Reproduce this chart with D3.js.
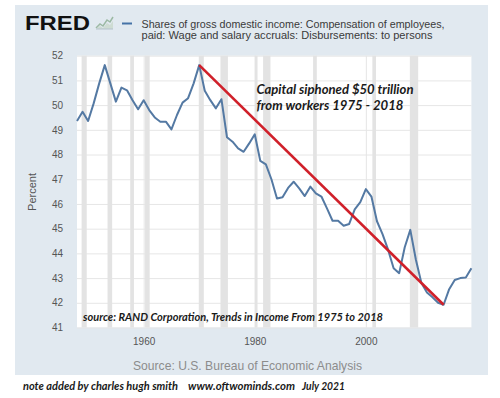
<!DOCTYPE html>
<html>
<head>
<meta charset="UTF-8">
<title>FRED - Wage and salary share of GDI</title>
<style>
  body { margin: 0; background: #fff; }
  svg { display: block; font-family: "Liberation Sans", Arial, sans-serif; }
  .grid line { stroke: #e6e6e6; stroke-width: 1; }
  .grid path { display: none; }
  .axis path, .axis line { display: none; }
  .axis text { fill: #555; font-size: 10px; }
  .note { font-family: Lato, "Open Sans", sans-serif; font-style: italic; font-weight: 700; fill: #1a1a1a; }
</style>
</head>
<body>
<svg width="500" height="398"></svg>
<script src="https://d3js.org/d3.v7.min.js"></script>
<script>

// annual values (percent of GDI)
var years = [1948, 1949, 1950, 1951, 1952, 1953, 1954, 1955, 1956, 1957,
             1958, 1959, 1960, 1961, 1962, 1963, 1964, 1965, 1966, 1967,
             1968, 1969, 1970, 1971, 1972, 1973, 1974, 1975, 1976, 1977,
             1978, 1979, 1980, 1981, 1982, 1983, 1984, 1985, 1986, 1987,
             1988, 1989, 1990, 1991, 1992, 1993, 1994, 1995, 1996, 1997,
             1998, 1999, 2000, 2001, 2002, 2003, 2004, 2005, 2006, 2007,
             2008, 2009, 2010, 2011, 2012, 2013, 2014, 2015, 2016, 2017,
             2018, 2019];
var share = [49.36, 49.73, 49.36, 50.07, 50.88, 51.62, 50.88, 50.14, 50.71, 50.60,
             50.20, 49.83, 50.20, 49.80, 49.50, 49.33, 49.33, 49.02, 49.60, 50.10,
             50.28, 50.88, 51.62, 50.58, 50.20, 49.87, 50.24, 48.70, 48.52, 48.25,
             48.11, 48.45, 48.82, 47.74, 47.60, 47.00, 46.22, 46.27, 46.65, 46.90,
             46.63, 46.32, 46.70, 46.43, 46.30, 45.82, 45.32, 45.32, 45.12, 45.19,
             45.78, 46.07, 46.60, 46.30, 45.30, 44.78, 44.15, 43.40, 43.20, 44.25,
             44.95, 43.75, 42.80, 42.42, 42.22, 42.00, 41.92, 42.55, 42.92, 43.00,
             43.02, 43.40];

// NBER recessions (decimal years) shown as grey bands
var recStart = [1948.83, 1953.5, 1957.58, 1960.25, 1969.92, 1973.83, 1980.0, 1981.5, 1990.5, 2001.17, 2007.92];
var recEnd   = [1949.75, 1954.33, 1958.25, 1961.08, 1970.83, 1975.17, 1980.5, 1982.83, 1991.17, 2001.83, 2009.42];

// red trend line added on top (peak -> trough)
var trendYears = [1970, 2014];
var trendVals  = [51.62, 41.92];

var yTicks = [41, 42, 43, 44, 45, 46, 47, 48, 49, 50, 51, 52];
var xTicks = [1960, 1980, 2000];

var svg = d3.select("svg"),
    margin = {top: 55.7, right: 28.6, bottom: 70.5, left: 77},
    width = 500 - margin.left - margin.right,
    height = 398 - margin.top - margin.bottom;

// FRED grey-blue panel
svg.append("rect")
    .attr("x", 15).attr("y", 5)
    .attr("width", 473).attr("height", 370)
    .attr("fill", "#e1e9f0");

var x = d3.scaleLinear().domain([1948, 2019]).range([0, width]),
    y = d3.scaleLinear().domain([41, 52]).range([height, 0]);

var g = svg.append("g")
    .attr("transform", "translate(" + margin.left + "," + margin.top + ")");

g.append("rect")
    .attr("width", width).attr("height", height)
    .attr("fill", "#fff");

// gridlines
g.append("g")
    .attr("class", "grid")
    .call(d3.axisLeft(y).tickValues(yTicks).tickSize(-width).tickFormat(""));
g.append("g")
    .attr("class", "grid")
    .attr("transform", "translate(0," + height + ")")
    .call(d3.axisBottom(x).tickValues(xTicks).tickSize(-height).tickFormat(""));

// recession bands
g.selectAll(".rec")
  .data(recStart)
  .enter().append("rect")
    .attr("class", "rec")
    .attr("x", function(d) { return x(d); })
    .attr("y", 0)
    .attr("width", function(d, i) { return x(recEnd[i]) - x(d); })
    .attr("height", height)
    .attr("fill", "#e3e3e3");

// axes labels
g.append("g")
    .attr("class", "axis")
    .call(d3.axisLeft(y).tickValues(yTicks).tickSize(0).tickPadding(14));
g.append("g")
    .attr("class", "axis")
    .attr("transform", "translate(0," + height + ")")
    .call(d3.axisBottom(x).tickValues(xTicks).tickSize(0).tickPadding(10).tickFormat(d3.format("d")));

svg.append("text")
    .attr("transform", "translate(36,192) rotate(-90)")
    .attr("text-anchor", "middle")
    .attr("fill", "#555")
    .attr("font-size", 11)
    .text("Percent");

// the series
var line = d3.line()
    .x(function(d, i) { return x(years[i]); })
    .y(function(d) { return y(d); });

g.append("path")
    .datum(share)
    .attr("fill", "none")
    .attr("stroke", "#5479a3")
    .attr("stroke-width", 2)
    .attr("stroke-linejoin", "round")
    .attr("d", line);

// red trend
g.append("path")
    .datum(trendVals)
    .attr("fill", "none")
    .attr("stroke", "#d0202a")
    .attr("stroke-width", 2.6)
    .attr("d", d3.line()
        .x(function(d, i) { return x(trendYears[i]); })
        .y(function(d) { return y(d); }));

// header: logo + legend
svg.append("text")
    .attr("x", 25).attr("y", 30)
    .attr("font-size", 21)
    .attr("font-weight", 900)
    .attr("fill", "#111")
    .attr("textLength", 65)
    .attr("lengthAdjust", "spacingAndGlyphs")
    .text("FRED");

var icon = svg.append("g").attr("transform", "translate(95,15)");
icon.append("path")
    .attr("d", "M1,13 L5,9 L8,11 L12,5 L15,7 L18,2")
    .attr("fill", "none").attr("stroke", "#9cb9a4").attr("stroke-width", 1.5);
icon.append("path")
    .attr("d", "M1,14 L5,11 L8,13 L12,8 L15,10 L18,6 L18,14 Z")
    .attr("fill", "#c9d8cc").attr("opacity", 0.8);
icon.append("path")
    .attr("d", "M1,14 L18,14")
    .attr("stroke", "#b5c2cc").attr("stroke-width", 1);

svg.append("line")
    .attr("x1", 122).attr("x2", 132)
    .attr("y1", 23.5).attr("y2", 23.5)
    .attr("stroke", "#4572a7").attr("stroke-width", 2);

svg.append("text")
    .attr("x", 141.5).attr("y", 27.5)
    .attr("font-size", 11)
    .attr("fill", "#3a3a3a")
    .attr("textLength", 303)
    .attr("lengthAdjust", "spacingAndGlyphs")
    .text("Shares of gross domestic income: Compensation of employees,");
svg.append("text")
    .attr("x", 141.5).attr("y", 39)
    .attr("font-size", 11)
    .attr("fill", "#3a3a3a")
    .attr("textLength", 291)
    .attr("lengthAdjust", "spacingAndGlyphs")
    .text("paid: Wage and salary accruals: Disbursements: to persons");

// source
svg.append("text")
    .attr("x", 247.5).attr("y", 369.5)
    .attr("text-anchor", "middle")
    .attr("font-size", 13)
    .attr("fill", "#8c8c8c")
    .attr("textLength", 229)
    .attr("lengthAdjust", "spacingAndGlyphs")
    .text("Source: U.S. Bureau of Economic Analysis");

// added annotations (bold italic)
function note(txt, xx, yy, size, len) {
  svg.append("text")
      .attr("class", "note")
      .attr("x", xx).attr("y", yy)
      .attr("font-size", size)
      .attr("textLength", len)
      .attr("lengthAdjust", "spacingAndGlyphs")
      .text(txt);
}
note("Capital siphoned $50 trillion", 256.5, 94, 13.5, 157);
note("from workers 1975 - 2018", 256.5, 110, 13.5, 147);
note("source: RAND Corporation, Trends in Income From 1975 to 2018", 83, 320.5, 11, 300);
note("note added by charles hugh smith", 23, 389.5, 11, 155);
note("www.oftwominds.com", 188, 389.5, 11, 107);
note("July 2021", 302, 389.5, 11, 43);

</script>
</body>
</html>
